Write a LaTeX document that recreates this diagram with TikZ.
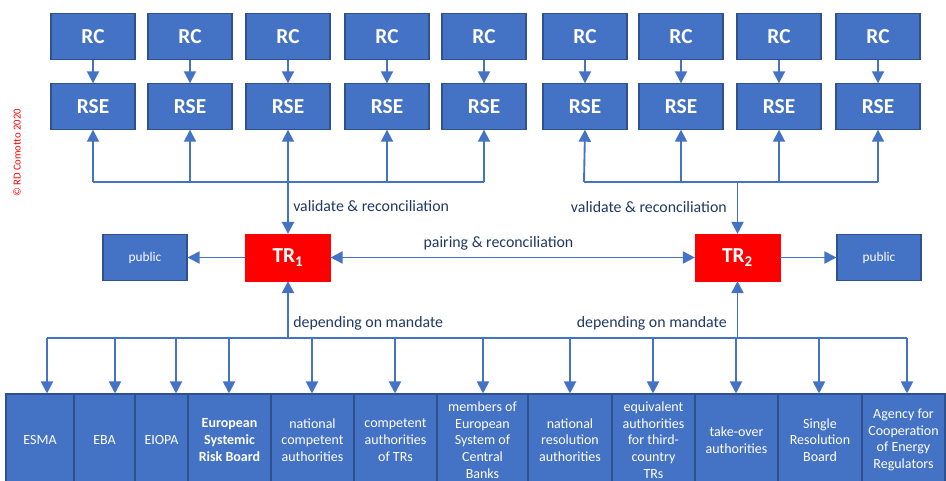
\documentclass[tikz,border=0pt]{standalone}
\usepackage{fontspec}
\setmainfont{Carlito}
\usetikzlibrary{arrows.meta}

\begin{document}
\begin{tikzpicture}[x=0.75pt,y=-0.75pt,
  rcbox/.style={draw=edgecolor,fill=boxcolor,line width=0.8pt,text=white,
    font=\fontsize{16}{18}\selectfont\bfseries,minimum width=63pt,minimum height=34pt,inner sep=0pt},
  trbox/.style={draw=trcolor,fill=trcolor,text=white,
    font=\fontsize{16}{18}\selectfont\bfseries,minimum width=63.5pt,minimum height=35pt,inner sep=0pt},
  pubbox/.style={rcbox,font=\fontsize{10}{12}\selectfont,minimum height=35pt},
  orgbox/.style={draw=edgecolor,fill=boxcolor,line width=0.8pt,text=white,align=center,
    font=\fontsize{10.5}{12.5}\selectfont,minimum height=69pt,inner sep=0pt},
  lbl/.style={text=labelcolor,font=\fontsize{11.9}{14}\selectfont,inner sep=0pt},
  conn/.style={draw=linecolor,line width=1.4pt},
  arr/.style={conn,-{Triangle[length=9pt,width=9pt]}}]
\definecolor{boxcolor}{RGB}{68,114,196}
\definecolor{edgecolor}{RGB}{47,82,143}
\definecolor{linecolor}{RGB}{68,114,196}
\definecolor{trcolor}{RGB}{255,0,0}
\definecolor{labelcolor}{RGB}{32,56,100}
\useasboundingbox (0,0) rectangle (946,481);
\node [rotate=90,text=red,font=\fontsize{8}{9}\selectfont] (copy) at (17,153) {© RD Comotto 2020};
\node [rcbox] (rc1) at (93,36.5) {RC};
\node [rcbox] (rc2) at (190,36.5) {RC};
\node [rcbox] (rc3) at (288,36.5) {RC};
\node [rcbox] (rc4) at (387,36.5) {RC};
\node [rcbox] (rc5) at (484,36.5) {RC};
\node [rcbox] (rc6) at (585,36.5) {RC};
\node [rcbox] (rc7) at (681,36.5) {RC};
\node [rcbox] (rc8) at (779,36.5) {RC};
\node [rcbox] (rc9) at (878,36.5) {RC};
\node [rcbox] (rse1) at (93,106.5) {RSE};
\node [rcbox] (rse2) at (190,106.5) {RSE};
\node [rcbox] (rse3) at (288,106.5) {RSE};
\node [rcbox] (rse4) at (387,106.5) {RSE};
\node [rcbox] (rse5) at (484,106.5) {RSE};
\node [rcbox] (rse6) at (585,106.5) {RSE};
\node [rcbox] (rse7) at (681,106.5) {RSE};
\node [rcbox] (rse8) at (779,106.5) {RSE};
\node [rcbox] (rse9) at (878,106.5) {RSE};
\node [trbox] (tr1) at (288,257.5) {TR\textsubscript{1}};
\node [trbox] (tr2) at (737.5,257.5) {TR\textsubscript{2}};
\node [pubbox] (pub1) at (145,257.5) {public};
\node [pubbox] (pub2) at (879,257.5) {public};
\node [orgbox,minimum width=51pt] (esma) at (40,440) {ESMA};
\node [orgbox,minimum width=45.75pt] (eba) at (104.5,440) {EBA};
\node [orgbox,minimum width=39.75pt] (eiopa) at (161.5,440) {EIOPA};
\node [orgbox,minimum width=62.25pt,font=\fontsize{10.5}{12.5}\selectfont\bfseries] (esrb) at (229.5,440) {European\\Systemic\\Risk Board};
\node [orgbox,minimum width=62.25pt] (natcomp) at (312.5,440) {national\\competent\\authorities};
\node [orgbox,minimum width=62.25pt] (comptr) at (395.5,440) {competent\\authorities\\of TRs};
\node [orgbox,minimum width=68.25pt] (escb) at (482.5,440) {members of\\European\\System of\\Central\\Banks};
\node [orgbox,minimum width=63pt] (natres) at (570,440) {national\\resolution\\authorities};
\node [orgbox,minimum width=62.25pt] (equiv) at (653.5,440) {equivalent\\authorities\\for third-\\country\\TRs};
\node [orgbox,minimum width=62.25pt] (takeover) at (736.5,440) {take-over\\authorities};
\node [orgbox,minimum width=63pt] (srb) at (820,440) {Single\\Resolution\\Board};
\node [orgbox,minimum width=62.25pt] (acer) at (903.5,440) {Agency for\\Cooperation\\of Energy\\Regulators};
\node [lbl,anchor=west] (val1) at (293,206) {validate \& reconciliation};
\node [lbl,anchor=east] (val2) at (727,207) {validate \& reconciliation};
\node [lbl] (pair) at (498.5,243) {pairing \& reconciliation};
\node [lbl,anchor=west] (dep1) at (293,323) {depending on mandate};
\node [lbl,anchor=east] (dep2) at (727,323) {depending on mandate};
\coordinate (busl) at (93,182);
\coordinate (busr) at (584,182);
\coordinate (b1) at (47,338);
\coordinate (b2) at (115,338);
\coordinate (b3) at (176,338);
\coordinate (b4) at (229,338);
\coordinate (b5) at (312,338);
\coordinate (b6) at (395,338);
\coordinate (b7) at (483,338);
\coordinate (b8) at (570,338);
\coordinate (b9) at (653,338);
\coordinate (b10) at (736,338);
\coordinate (b11) at (819,338);
\coordinate (b12) at (907,338);
\draw [arr] (rc1) -- (rse1);
\draw [arr] (rc2) -- (rse2);
\draw [arr] (rc3) -- (rse3);
\draw [arr] (rc4) -- (rse4);
\draw [arr] (rc5) -- (rse5);
\draw [arr] (rc6) -- (rse6);
\draw [arr] (rc7) -- (rse7);
\draw [arr] (rc8) -- (rse8);
\draw [arr] (rc9) -- (rse9);
\draw [conn] (busl) -- (rse5.south |- busl);
\draw [arr] (busl) -- (rse1.south);
\draw [arr] (rse2.south |- busl) -- (rse2.south);
\draw [arr] (rse3.south |- busl) -- (rse3.south);
\draw [arr] (rse4.south |- busl) -- (rse4.south);
\draw [arr] (rse5.south |- busl) -- (rse5.south);
\draw [arr] (rse3.south |- busl) -- (tr1.north);
\draw [conn] (busr) -- (rse9.south |- busr);
\draw [arr] (busr) -- (rse6.south);
\draw [arr] (rse7.south |- busr) -- (rse7.south);
\draw [arr] (rse8.south |- busr) -- (rse8.south);
\draw [arr] (rse9.south |- busr) -- (rse9.south);
\draw [arr] (tr2.north |- busr) -- (tr2.north);
\draw [arr] (tr1) -- (pub1);
\draw [arr] (tr2) -- (pub2);
\draw [arr,{Triangle[length=9pt,width=9pt]}-{Triangle[length=9pt,width=9pt]}] (tr1) -- (tr2);
\draw [conn] (b1) -- (b12);
\draw [arr] (tr1.south |- b1) -- (tr1.south);
\draw [arr] (tr2.south |- b1) -- (tr2.south);
\draw [arr] (b1) -- (b1 |- esma.north);
\draw [arr] (b2) -- (b2 |- eba.north);
\draw [arr] (b3) -- (b3 |- eiopa.north);
\draw [arr] (b4) -- (b4 |- esrb.north);
\draw [arr] (b5) -- (b5 |- natcomp.north);
\draw [arr] (b6) -- (b6 |- comptr.north);
\draw [arr] (b7) -- (b7 |- escb.north);
\draw [arr] (b8) -- (b8 |- natres.north);
\draw [arr] (b9) -- (b9 |- equiv.north);
\draw [arr] (b10) -- (b10 |- takeover.north);
\draw [arr] (b11) -- (b11 |- srb.north);
\draw [arr] (b12) -- (b12 |- acer.north);
\end{tikzpicture}
\end{document}
